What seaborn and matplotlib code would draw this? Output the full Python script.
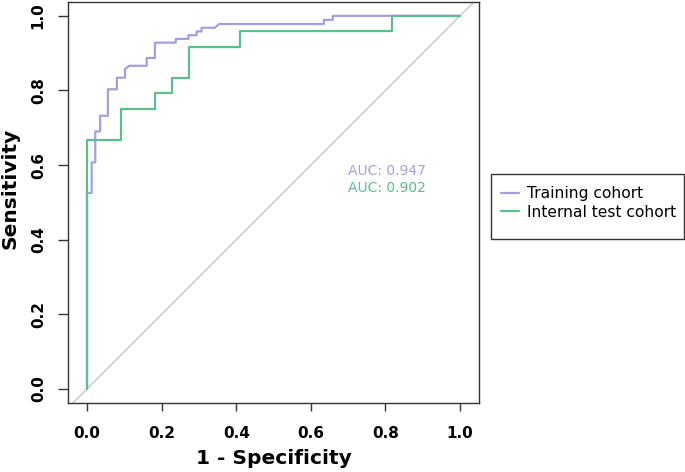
import matplotlib
matplotlib.use("Agg")
import matplotlib.pyplot as plt
import seaborn as sns
import pandas as pd
from matplotlib.lines import Line2D
from matplotlib.patches import Rectangle

# ROC curve vertices (1 - specificity, sensitivity)
train_fpr = [0.0, 0.0, 0.0125, 0.0125, 0.022, 0.022, 0.035, 0.035, 0.056, 0.056,
             0.080, 0.080, 0.102, 0.102, 0.113, 0.160, 0.160, 0.182, 0.182, 0.238,
             0.238, 0.272, 0.272, 0.294, 0.294, 0.307, 0.307, 0.343, 0.354, 0.635,
             0.635, 0.659, 0.659, 1.0]
train_tpr = [0.0, 0.525, 0.525, 0.607, 0.607, 0.690, 0.690, 0.732, 0.732, 0.803,
             0.803, 0.834, 0.834, 0.857, 0.866, 0.866, 0.887, 0.887, 0.928, 0.928,
             0.938, 0.938, 0.948, 0.948, 0.958, 0.958, 0.968, 0.968, 0.978, 0.978,
             0.989, 0.989, 1.0, 1.0]

test_fpr = [0.0, 0.0, 0.0909, 0.0909, 0.182, 0.182, 0.227, 0.227, 0.273, 0.273,
            0.409, 0.409, 0.818, 0.818, 1.0]
test_tpr = [0.0, 0.667, 0.667, 0.750, 0.750, 0.792, 0.792, 0.833, 0.833, 0.917,
            0.917, 0.958, 0.958, 1.0, 1.0]

cohorts = ["Training cohort", "Internal test cohort"]
auc_labels = ["AUC: 0.947", "AUC: 0.902"]
colors = ["#A79DE6", "#5BBE8C"]
tick_vals = [0.0, 0.2, 0.4, 0.6, 0.8, 1.0]
tick_labels = ["0.0", "0.2", "0.4", "0.6", "0.8", "1.0"]

df = pd.concat([
    pd.DataFrame({"fpr": train_fpr, "tpr": train_tpr, "cohort": cohorts[0]}),
    pd.DataFrame({"fpr": test_fpr, "tpr": test_tpr, "cohort": cohorts[1]}),
], ignore_index=True)

sns.set_theme(style="white")
plt.rcParams["font.family"] = ["DejaVu Sans"]
plt.rcParams["text.color"] = "black"
plt.rcParams["axes.labelcolor"] = "black"
plt.rcParams["xtick.color"] = "black"
plt.rcParams["ytick.color"] = "black"

W, H = 685, 472
fig = plt.figure(figsize=(6.85, 4.72), dpi=100)
ax = fig.add_axes([68 / W, 1 - 403 / H, 411 / W, 401 / H])

ax.axline((0, 0), (1, 1), color="#BBBBBB", lw=0.8, zorder=1)

sns.lineplot(data=df, x="fpr", y="tpr", hue="cohort", hue_order=cohorts,
             palette=colors, sort=False, estimator=None, units="cohort",
             lw=1.6, ax=ax, legend=False, zorder=3)

ax.set_xlim(-0.051, 1.051)
ax.set_ylim(-0.038, 1.037)

ax.set_xticks(tick_vals)
ax.set_xticklabels(tick_labels, fontsize=11, fontweight="bold")
ax.set_yticks(tick_vals)
ax.set_yticklabels(tick_labels, fontsize=11, fontweight="bold", rotation=90, va="center")
ax.tick_params(axis="x", direction="out", length=6, width=1, color="#333333", pad=10.5, bottom=True)
ax.tick_params(axis="y", direction="out", length=7, width=1, color="#333333", pad=9, left=True)

for s in ax.spines.values():
    s.set_color("#333333")
    s.set_linewidth(1.0)

ax.set_xlabel("1 - Specificity", fontsize=14.5, fontweight="bold")
ax.set_ylabel("Sensitivity", fontsize=14.5, fontweight="bold")
ax.xaxis.set_label_coords(0.5, -0.115)
ax.yaxis.set_label_coords(-0.119, 0.535)

ax.text(0.70, 0.584, auc_labels[0], color=colors[0], fontsize=10, va="center", ha="left")
ax.text(0.70, 0.538, auc_labels[1], color=colors[1], fontsize=10, va="center", ha="left")

handles = [Line2D([0], [0], color=c, lw=1.6) for c in colors]
leg = fig.legend(handles, cohorts, loc="upper left", bbox_to_anchor=(491 / W, 1 - 176.8 / H),
                 fontsize=11.2, frameon=False, handlelength=1.15, handletextpad=0.55,
                 borderpad=0.62, labelspacing=0.2, borderaxespad=0)
fig.patches.append(Rectangle((491 / W, 1 - 239 / H), 193 / W, 64.7 / H,
                             transform=fig.transFigure, fill=False,
                             edgecolor="#333333", lw=1.0))

fig.savefig("out.png", dpi=100)
